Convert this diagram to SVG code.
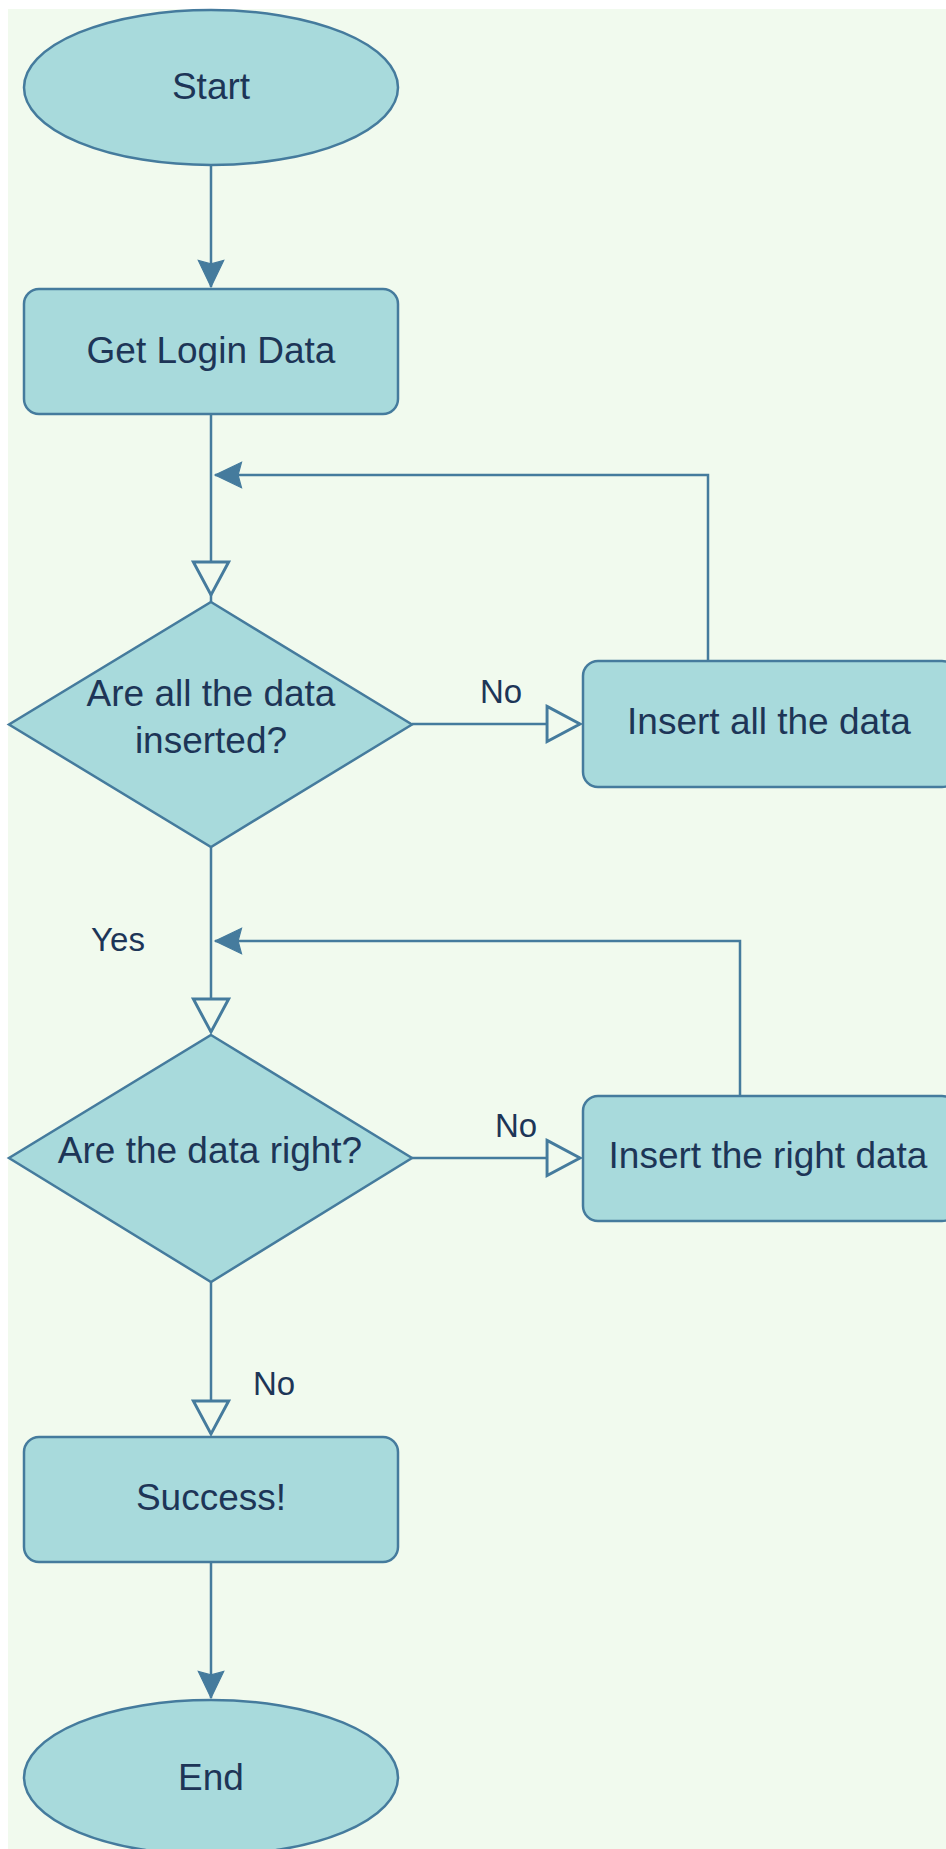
<svg xmlns="http://www.w3.org/2000/svg" width="946" height="1849" viewBox="0 0 946 1849">
<style>
.shape{fill:#A8DADC;stroke:#457B9D;stroke-width:2.5}
.conn{fill:none;stroke:#457B9D;stroke-width:2.5}
.t{font-family:"Liberation Sans",Arial,sans-serif;font-size:37px;fill:#1D3557;text-anchor:middle}
.lbl{font-family:"Liberation Sans",Arial,sans-serif;font-size:33px;fill:#1D3557;text-anchor:middle}
</style>
<defs>
<marker id="classic" markerUnits="userSpaceOnUse" markerWidth="30" markerHeight="30" viewBox="-24 -12 26 24" refX="0" refY="0" orient="auto" overflow="visible">
<path d="M-23,-11 L0,0 L-23,11 L-20,0 Z" fill="#457B9D" stroke="#457B9D" stroke-width="1"/>
</marker>
<marker id="hollow" markerUnits="userSpaceOnUse" markerWidth="40" markerHeight="40" viewBox="-30 -17 32 34" refX="0" refY="0" orient="auto" overflow="visible">
<path d="M-28,-15 L0,0 L-28,15 Z" fill="#F1FAEE" stroke="#457B9D" stroke-width="2.5" stroke-linejoin="miter"/>
</marker>
</defs>
<rect x="0" y="0" width="946" height="1849" fill="#FFFFFF"/>
<rect x="8" y="9" width="938" height="1840" fill="#F1FAEE"/>
<g id="connectors">
<path class="conn" d="M211,165 V287" marker-end="url(#classic)"/>
<path class="conn" d="M211,414 V595" marker-end="url(#hollow)"/>
<path class="conn" d="M211,595 V602"/>
<path class="conn" d="M412,724 H580" marker-end="url(#hollow)"/>
<path class="conn" d="M708,661 V475 H215" marker-end="url(#classic)"/>
<path class="conn" d="M211,847 V1032" marker-end="url(#hollow)"/>
<path class="conn" d="M412,1158 H580" marker-end="url(#hollow)"/>
<path class="conn" d="M740,1096 V941 H215" marker-end="url(#classic)"/>
<path class="conn" d="M211,1282 V1434" marker-end="url(#hollow)"/>
<path class="conn" d="M211,1562 V1698" marker-end="url(#classic)"/>
<text class="lbl" x="501" y="703">No</text>
<text class="lbl" x="118" y="951">Yes</text>
<text class="lbl" x="516" y="1137">No</text>
<text class="lbl" x="274" y="1395">No</text>
</g>
<g id="start">
<ellipse class="shape" cx="211" cy="87.5" rx="187" ry="77.5"/>
<text class="t" x="211" y="99">Start</text>
</g>
<g id="get-login-data">
<rect class="shape" x="24" y="289" width="374" height="125" rx="15" ry="15"/>
<text class="t" x="211" y="363">Get Login Data</text>
</g>
<g id="all-inserted">
<polygon class="shape" points="211,602 412,724.5 211,847 9,724.5"/>
<text class="t" x="211" y="706">Are all the data</text>
<text class="t" x="211" y="753">inserted?</text>
</g>
<g id="insert-all">
<rect class="shape" x="583" y="661" width="374" height="126" rx="15" ry="15"/>
<text class="t" x="769" y="734">Insert all the data</text>
</g>
<g id="data-right">
<polygon class="shape" points="211,1035 412,1158 211,1282 9,1158"/>
<text class="t" x="210" y="1163">Are the data right?</text>
</g>
<g id="insert-right">
<rect class="shape" x="583" y="1096" width="374" height="125" rx="15" ry="15"/>
<text class="t" x="768" y="1168">Insert the right data</text>
</g>
<g id="success">
<rect class="shape" x="24" y="1437" width="374" height="125" rx="15" ry="15"/>
<text class="t" x="211" y="1510">Success!</text>
</g>
<g id="end">
<ellipse class="shape" cx="211" cy="1777.5" rx="187" ry="77.5"/>
<text class="t" x="211" y="1790">End</text>
</g>
</svg>
